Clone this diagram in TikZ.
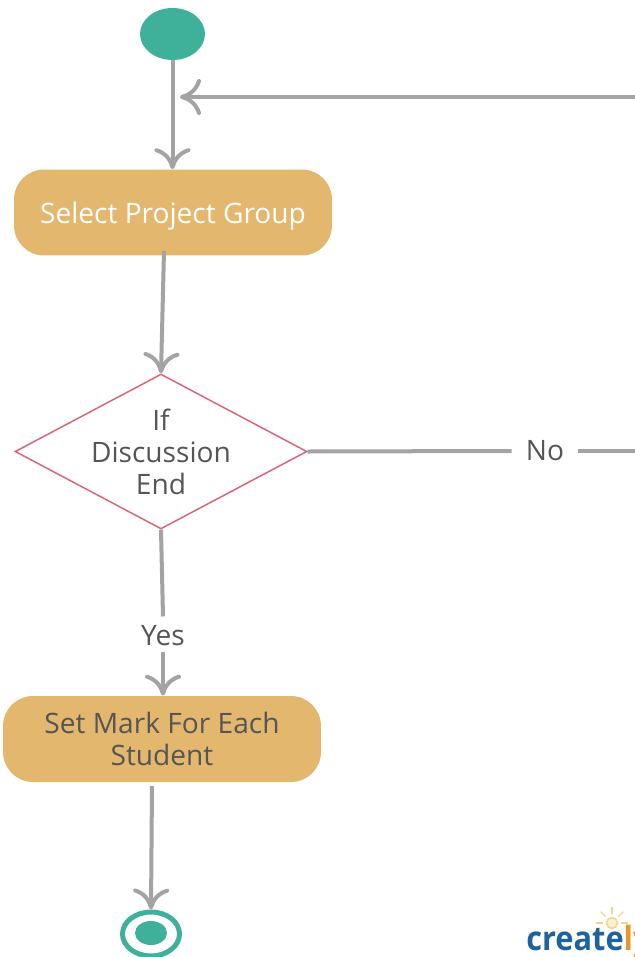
\documentclass[tikz,border=0pt]{standalone}
\usepackage{fontspec}
\setmainfont{Open Sans}
\usetikzlibrary{arrows.meta,shapes.geometric}
\definecolor{flowgrey}{HTML}{A3A3A3}
\definecolor{boxfill}{HTML}{E4B76F}
\definecolor{dotgreen}{HTML}{3FB09A}
\definecolor{diamondred}{HTML}{D9667A}
\definecolor{labelgrey}{HTML}{555555}
\definecolor{logoblue}{HTML}{1F639E}
\definecolor{logoorange}{HTML}{E8952E}
\definecolor{bulbyellow}{HTML}{F0D68C}
\tikzset{
  flow/.style={draw=flowgrey, line width=0.08cm},
  flowarrow/.style={flow, -{Computer Modern Rightarrow[length=0.42cm,width=0.72cm,line width=0.08cm]}},
  actionbox/.style={rectangle, rounded corners=0.6cm, fill=boxfill, minimum width=6.36cm, minimum height=1.72cm, align=center, font=\fontsize{16}{18.2}\selectfont, text=labelgrey},
  decision/.style={diamond, draw=diamondred, fill=white, line width=0.03cm, shape aspect=1.88, minimum width=5.84cm, minimum height=3.1cm, inner sep=-0.1cm, align=center, font=\fontsize{16}{18.2}\selectfont, text=labelgrey},
  flowlabel/.style={font=\fontsize{16}{18}\selectfont, text=labelgrey, inner sep=0pt},
}
\begin{document}
\begin{tikzpicture}[x=0.02cm, y=-0.02cm]
    \useasboundingbox (0,0) rectangle (635,957);
    \clip (0,0) rectangle (635,957);

    % start and end dots
    \node[ellipse, fill=dotgreen, minimum width=1.3cm, minimum height=1.04cm, inner sep=0pt] (start) at (172.5,34) {};
    \node[ellipse, draw=dotgreen, line width=0.1cm, minimum width=1.14cm, minimum height=0.88cm, inner sep=0pt] (stop) at (151,934) {};
    \node[ellipse, fill=dotgreen, minimum width=0.64cm, minimum height=0.48cm, inner sep=0pt] (stopdot) at (151,933) {};

    % boxes
    \node[actionbox, text=white, text depth=0pt] (select) at (173,212.5) {Select Project Group};
    \node[decision] (discussion) at (161,451.5) {If\\Discussion\\End};
    \node[actionbox] (mark) at (162,739) {Set Mark For Each\\Student};

    % labels
    \node[flowlabel] (no) at (545,451) {No};
    \node[flowlabel] (yes) at (163,636) {Yes};

    % free ends
    \coordinate (selectout) at (164,251);
    \coordinate (markout) at (152,786);
    \coordinate (noout) at (635,451);
    \coordinate (backin) at (635,97);
    \coordinate (backend) at (180,97);

    % start to select
    \draw[flowarrow] (start) -- (start |- select.north);
    % select to diamond
    \draw[flowarrow] (selectout) -- (discussion.north);
    % diamond to mark
    \draw[flow] (discussion.south) -- ([yshift=0.18cm]yes.north);
    \draw[flowarrow] ([yshift=-0.1cm]yes.south) -- (mark.north -| yes);
    % mark to end
    \draw[flowarrow] (markout) -- (stop.north);
    % no branch back up
    \draw[flow] (discussion.east) -- ([xshift=-0.28cm]no.west);
    \draw[flow] ([xshift=0.28cm]no.east) -- (noout);
    \draw[flowarrow] (backin) -- (backend);

    % logo
    \node[anchor=base west, inner sep=0pt, font=\bfseries\fontsize{19}{24}\selectfont, text=logoblue] (logo) at (526,950) {\scalebox{0.92}[1]{create\textcolor{logoorange}{ly}}};
    \node[circle, draw=bulbyellow, fill=bulbyellow!40, line width=0.03cm, minimum size=0.22cm, inner sep=0pt] (bulb) at (612,923) {};
    \foreach \a in {0,45,90,135,180} {
        \draw[bulbyellow, line width=0.025cm] (bulb) ++(\a:0.18cm) -- ++(\a:0.14cm);
    }
\end{tikzpicture}
\end{document}
